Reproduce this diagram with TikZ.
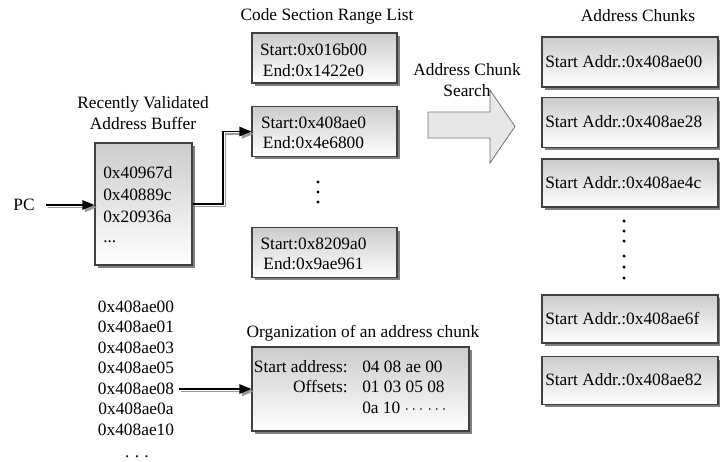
\documentclass[tikz,border=0pt]{standalone}
\usepackage{fontspec}
\setmainfont{Liberation Serif}
\usetikzlibrary{shadows,arrows.meta,calc}
\begin{document}
\begin{tikzpicture}[x=0.75pt,y=-0.75pt,
  every node/.style={font=\fontsize{13}{15.5}\selectfont, inner sep=0pt},
  box/.style={draw=black!75, line width=0.8pt, top color=black!20, bottom color=white,
    drop shadow={shadow xshift=2.2pt, shadow yshift=-2.2pt, fill=black!50, opacity=1}},
  txt/.style={text height=10pt, text depth=2pt},
  lbl/.style={align=center},
  arr/.style={line width=1.2pt, -{Triangle[length=9pt,width=7pt]}},
  arrsh/.style={line width=1.2pt, draw=black!40, -{Triangle[length=9pt,width=7pt]},
    transform canvas={xshift=1.8pt,yshift=-1.8pt}},
  smalldot/.style={circle, fill=black, minimum size=2.6pt, inner sep=0pt},
]
\useasboundingbox (0,0) rectangle (720,461);

% ---- Recently validated address buffer
\node[lbl] (buft) at (143,113) {Recently Validated\\Address Buffer};
\node[box, minimum width=72.75pt, minimum height=91.5pt] (buf) at (143.5,204) {};
\node[txt, anchor=west] (b1) at (103,173) {0x40967d};
\node[txt, anchor=west] (b2) at (103,195) {0x40889c};
\node[txt, anchor=west] (b3) at (103,217) {0x20936a};
\node[txt, anchor=west] (b4) at (103,237) {...};
\node[txt] (pc) at (24,205) {PC};

% ---- Code section range list
\node (cst) at (327,16) {Code Section Range List};
\node[box, minimum width=108.75pt, minimum height=37.5pt] (cs1) at (324.5,58) {};
\node[box, minimum width=108.75pt, minimum height=37pt] (cs2) at (324.5,131.5) {};
\node[box, minimum width=108.75pt, minimum height=37pt] (cs3) at (324.5,252.5) {};
\node[lbl] (cs1t) at (313.5,60) {Start:0x016b00\\End:0x1422e0};
\node[lbl] (cs2t) at (313.5,133) {Start:0x408ae0\\End:0x4e6800};
\node[lbl] (cs3t) at (313.5,254) {Start:0x8209a0\\End:0x9ae961};
\node[smalldot] (cd1) at (318,182) {};
\node[smalldot] (cd2) at (318,192) {};
\node[smalldot] (cd3) at (318,202) {};

% ---- Address chunk search arrow
\node[lbl] (srch) at (467,80) {Address Chunk\\Search};
\filldraw[fill=black!9, draw=black!55, line width=0.6pt]
  (428,112) -- (490,112) -- (490,90) -- (515,126.5) -- (490,163) -- (490,138) -- (428,138) -- cycle;

% ---- Address chunks
\node (cht) at (638,16) {Address Chunks};
\node[box, minimum width=132pt, minimum height=37.5pt] (ch1) at (630,62) {};
\node[box, minimum width=132pt, minimum height=37pt] (ch2) at (630,122.5) {};
\node[box, minimum width=132pt, minimum height=36pt] (ch3) at (630,183) {};
\node[box, minimum width=132pt, minimum height=36pt] (ch4) at (630,319) {};
\node[box, minimum width=132pt, minimum height=35.5pt] (ch5) at (630,380.5) {};
\node[txt, anchor=west] (ch1t) at (545,62) {Start Addr.:0x408ae00};
\node[txt, anchor=west] (ch2t) at (545,122.5) {Start Addr.:0x408ae28};
\node[txt, anchor=west] (ch3t) at (545,183) {Start Addr.:0x408ae4c};
\node[txt, anchor=west] (ch4t) at (545,319) {Start Addr.:0x408ae6f};
\node[txt, anchor=west] (ch5t) at (545,380.5) {Start Addr.:0x408ae82};
\node[smalldot] (hd1) at (624,221) {};
\node[smalldot] (hd2) at (624,231) {};
\node[smalldot] (hd3) at (624,241) {};
\node[smalldot] (hd4) at (624,256) {};
\node[smalldot] (hd5) at (624,267) {};
\node[smalldot] (hd6) at (624,278) {};

% ---- Address list
\node[txt] (a00) at (136,307) {0x408ae00};
\node[txt] (a01) at (136,327.5) {0x408ae01};
\node[txt] (a03) at (136,348) {0x408ae03};
\node[txt] (a05) at (136,368.5) {0x408ae05};
\node[txt] (a08) at (136,389) {0x408ae08};
\node[txt] (a0a) at (136,409.5) {0x408ae0a};
\node[txt] (a10) at (136,430) {0x408ae10};
\node[txt] (adots) at (137,452) {.\hspace{4pt}.\hspace{4pt}.};

% ---- Organization of an address chunk
\node (orgt) at (363,333) {Organization of an address chunk};
\node[box, minimum width=162.75pt, minimum height=63pt] (org) at (360.5,389) {};
\node[txt, anchor=east] (o1l) at (348,367) {Start address:};
\node[txt, anchor=east] (o2l) at (348,387.5) {Offsets:};
\node[txt, anchor=west] (o1v) at (362,367) {04 08 ae 00};
\node[txt, anchor=west] (o2v) at (362,387.5) {01 03 05 08};
\node[txt, anchor=west] (o3v) at (362,408) {0a 10 $\cdots$ $\cdots$};

% ---- connectors
\coordinate (bend) at (223,0);
\draw[arrsh] ([xshift=8pt]pc.east) -- (pc.east -| buf.west);
\draw[arr]   ([xshift=8pt]pc.east) -- (pc.east -| buf.west);
\draw[arrsh] (buf.east) -| (bend |- cs2.west) -- (cs2.west);
\draw[arr]   (buf.east) -| (bend |- cs2.west) -- (cs2.west);
\draw[arrsh] ([xshift=3.5pt]a08.east) -- (a08.east -| org.west);
\draw[arr]   ([xshift=3.5pt]a08.east) -- (a08.east -| org.west);
\end{tikzpicture}
\end{document}
